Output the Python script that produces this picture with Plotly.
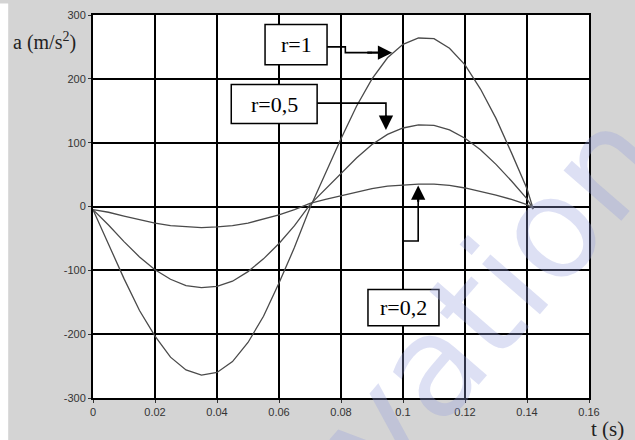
import plotly.graph_objects as go

# time (s)
t = [0, 0.005, 0.01, 0.015, 0.02, 0.025, 0.03, 0.035, 0.04, 0.045, 0.05, 0.055,
     0.06, 0.065, 0.07, 0.075, 0.08, 0.085, 0.09, 0.095, 0.1, 0.105, 0.11, 0.115,
     0.12, 0.125, 0.13, 0.135, 0.14, 0.142]

# acceleration (m/s^2)
a_r1 = [-5, -58, -113, -163, -203, -236, -256, -264, -260, -243, -213, -172,
        -120, -64, -2, 52, 106, 157, 200, 233, 254, 264, 263, 248,
        222, 184, 138, 84, 28, -4]
a_r05 = [-5, -29, -55, -79, -99, -114, -124, -127, -125, -117, -102, -82,
         -58, -30, 3, 27, 52, 76, 97, 113, 123, 128, 127, 120,
         107, 89, 66, 40, 12, -4]
a_r02 = [-5, -9, -15, -21, -26, -30, -32, -33, -32, -30, -26, -20,
         -13, -5, 5, 11, 17, 23, 28, 32, 34, 35, 35, 33,
         29, 24, 18, 11, 3, -3]

x_ticks = [0, 0.02, 0.04, 0.06, 0.08, 0.1, 0.12, 0.14, 0.16]
x_labels = ["0", "0.02", "0.04", "0.06", "0.08", "0.1", "0.12", "0.14", "0.16"]
y_ticks = [-300, -200, -100, 0, 100, 200, 300]
y_labels = ["-300", "-200", "-100", "0", "100", "200", "300"]

labels = ["r=1", "r=0,5", "r=0,2"]

fig = go.Figure()
line_style = dict(color="#4a4a4a", width=1.3)
for ys in (a_r1, a_r05, a_r02):
    fig.add_trace(go.Scatter(x=t, y=ys, mode="lines", line=line_style,
                             showlegend=False, hoverinfo="skip"))

ann_font = dict(family="Liberation Serif, Times New Roman, serif", size=22, color="black")

shapes = []
annotations = []

# watermark (drawn first so it stays underneath other annotations)
annotations.append(dict(x=0.603, y=-0.033, xref="paper", yref="paper", text="innovation",
                        xanchor="center", yanchor="middle",
                        showarrow=False, textangle=-49,
                        font=dict(family="DejaVu Sans, sans-serif", size=140,
                                  color="rgba(150,160,220,0.32)")))

# label boxes (data coords)
boxes = [
    (labels[0], 0.0555, 0.0755, 222, 285),
    (labels[1], 0.0446, 0.0723, 130, 191),
    (labels[2], 0.0887, 0.1116, -187, -130),
]
for txt, x0, x1, y0, y1 in boxes:
    shapes.append(dict(type="rect", xref="x", yref="y", x0=x0, x1=x1, y0=y0, y1=y1,
                       line=dict(color="black", width=1.5), fillcolor="white", layer="above"))
    annotations.append(dict(x=(x0 + x1) / 2, y=(y0 + y1) / 2, xref="x", yref="y",
                            text=txt, showarrow=False, font=ann_font))

# connectors
conn = dict(color="black", width=1.6)
shapes.append(dict(type="path", xref="x", yref="y",
                   path="M 0.0755,250 L 0.0814,250 L 0.0814,241 L 0.090,241",
                   line=conn, layer="above"))
shapes.append(dict(type="path", xref="x", yref="y",
                   path="M 0.0723,162 L 0.0945,162 L 0.0945,140",
                   line=conn, layer="above"))
shapes.append(dict(type="path", xref="x", yref="y",
                   path="M 0.1000,-130 L 0.1000,-54 L 0.1049,-54 L 0.1049,10",
                   line=conn, layer="above"))

arrows = [
    (0.0965, 241, 0.088, 241),
    (0.0945, 120, 0.0945, 145),
    (0.1049, 33, 0.1049, 5),
]
for hx, hy, tx, ty in arrows:
    annotations.append(dict(x=hx, y=hy, ax=tx, ay=ty, xref="x", yref="y",
                            axref="x", ayref="y", showarrow=True, arrowhead=2,
                            arrowsize=1.3, arrowwidth=2.2, arrowcolor="black", text=""))

# axis titles
annotations.append(dict(x=-0.165, y=0.93, xref="paper", yref="paper", xanchor="left",
                        yanchor="middle", text="a (m/s<sup>2</sup>)", showarrow=False,
                        font=dict(family="Liberation Serif, serif", size=20, color="#222")))
annotations.append(dict(x=1.0, y=-0.082, xref="paper", yref="paper", xanchor="left",
                        yanchor="middle", text="t (s)", showarrow=False,
                        font=dict(family="Liberation Serif, serif", size=21, color="#222")))

# white strip at far left
shapes.append(dict(type="rect", xref="paper", yref="paper", x0=-0.19, x1=-0.171,
                   y0=-0.12, y1=1.03, fillcolor="white", line=dict(width=0), layer="below"))

fig.update_layout(
    width=635, height=440,
    margin=dict(l=93, r=46, t=9, b=42),
    paper_bgcolor="#d4d4d4",
    plot_bgcolor="white",
    shapes=shapes,
    annotations=annotations,
    font=dict(family="Liberation Sans, Arial, sans-serif", size=11, color="#333"),
)
axis_common = dict(showgrid=True, gridcolor="black", gridwidth=2, zeroline=False,
                   showline=True, linecolor="black", linewidth=2, mirror=True,
                   ticks="outside", ticklen=3, tickcolor="#333",
                   tickfont=dict(family="Liberation Sans, Arial, sans-serif", size=11, color="#333"))
fig.update_xaxes(range=[0, 0.16], tickvals=x_ticks, ticktext=x_labels, **axis_common)
fig.update_yaxes(range=[-300, 300], tickvals=y_ticks, ticktext=y_labels, **axis_common)

fig.write_html("out.html")
